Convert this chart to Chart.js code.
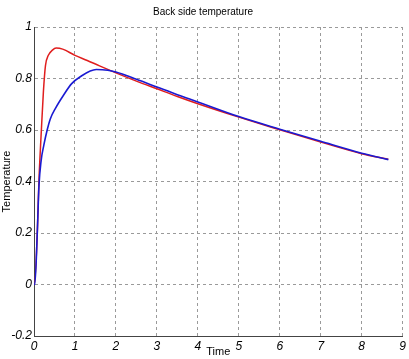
<!DOCTYPE html>
<html>
<head>
<meta charset="utf-8">
<title>Back side temperature</title>
<script src="https://cdn.jsdelivr.net/npm/chart.js@4.4.1/dist/chart.umd.min.js"></script>
<style>
  html, body { margin: 0; padding: 0; background: #fff; }
  #wrap { width: 409px; height: 359px; }
</style>
</head>
<body>
<div id="wrap"><canvas id="myChart" width="409" height="359"></canvas></div>
<script>
'use strict';

// measured curve (blue) and model curve (red)
let timeBlue = [0, 0.02, 0.08, 0.12, 0.175, 0.24, 0.32, 0.4, 0.52, 0.72, 0.92, 1.12, 1.52, 1.8, 2, 2.5, 3, 3.5, 4, 5, 6, 7, 8, 8.65];
let tempBlue = [0, 0, 0.2, 0.38, 0.482, 0.541, 0.599, 0.644, 0.683, 0.735, 0.78, 0.806, 0.835, 0.832, 0.825, 0.797, 0.767, 0.737, 0.709, 0.652, 0.603, 0.556, 0.51, 0.485];

let timeRed = [0, 0.01, 0.08, 0.12, 0.18, 0.23, 0.28, 0.35, 0.45, 0.54, 0.7, 1.0, 1.3, 1.6, 2, 2.5, 3, 3.5, 4, 5, 6, 7, 8, 8.65];
let tempRed = [0, 0, 0.2, 0.4, 0.6, 0.75, 0.85, 0.89, 0.91, 0.918, 0.914, 0.89, 0.87, 0.849, 0.822, 0.79, 0.76, 0.73, 0.702, 0.65, 0.601, 0.553, 0.508, 0.486];

let xTicks = ['0', '1', '2', '3', '4', '5', '6', '7', '8', '9'];
let yTicks = ['-0.2', '0', '0.2', '0.4', '0.6', '0.8', '1'];

function toPoints(xs, ys){
    let pts = [];
    for (let i = 0; i < xs.length; i++){
        pts.push({x: xs[i], y: ys[i]});
    }
    return pts;
}

let narrow = "'Liberation Sans Narrow', 'Arial Narrow', Arial, sans-serif";
let gridColor = '#9a9a9a';

let chardata = {
    type: 'line',
    data: {
      datasets: [{
        label: 'measured',
        data: toPoints(timeBlue, tempBlue),
        borderColor: '#1a1ad2',
        borderWidth: 1.6,
        pointRadius: 0,
        cubicInterpolationMode: 'monotone'
      },
      {
        label: 'model',
        data: toPoints(timeRed, tempRed),
        borderColor: '#e01e1e',
        borderWidth: 1.5,
        pointRadius: 0,
        cubicInterpolationMode: 'monotone'
      }]
    },
    options: {
      responsive: false,
      animation: false,
      layout: { padding: { left: 0, right: 3, top: 0, bottom: 0 } },
      plugins: {
        legend: { display: false },
        tooltip: { enabled: false },
        title: {
          display: true,
          text: 'Back side temperature',
          color: '#000',
          font: { family: narrow, size: 10, weight: 'normal' },
          padding: { top: 6, bottom: 9 }
        }
      },
      scales: {
        x: {
          type: 'linear',
          min: 0,
          max: 9,
          afterFit: function(scale){ scale.height = 23; },
          ticks: {
            stepSize: 1,
            color: '#000',
            padding: 3,
            font: { family: narrow, size: 12, style: 'italic' },
            callback: function(v){ return xTicks[Math.round(v)]; }
          },
          grid: { color: gridColor, drawTicks: false, lineWidth: 1 },
          border: { display: true, color: '#444', width: 1, dash: [3, 3] },
          title: {
            display: true,
            text: 'Time',
            color: '#000',
            font: { family: narrow, size: 11 },
            padding: { top: 0, bottom: 0 }
          }
        },
        y: {
          type: 'linear',
          min: -0.2,
          max: 1,
          afterFit: function(scale){ scale.width = 34; },
          ticks: {
            stepSize: 0.2,
            color: '#000',
            padding: 2,
            font: { family: narrow, size: 12, style: 'italic' },
            callback: function(v){ return yTicks[Math.round((v + 0.2) / 0.2)]; }
          },
          grid: { color: gridColor, drawTicks: false, lineWidth: 1 },
          border: { display: true, color: '#444', width: 1, dash: [3, 3] },
          title: {
            display: true,
            text: 'Temperature',
            color: '#000',
            font: { family: 'Liberation Sans, Arial, sans-serif', size: 11 },
            padding: { top: 0, bottom: 0 }
          }
        }
      }
    }
};

let ctx = document.getElementById('myChart').getContext('2d');
let myChart = new Chart(ctx, chardata);
</script>
</body>
</html>
